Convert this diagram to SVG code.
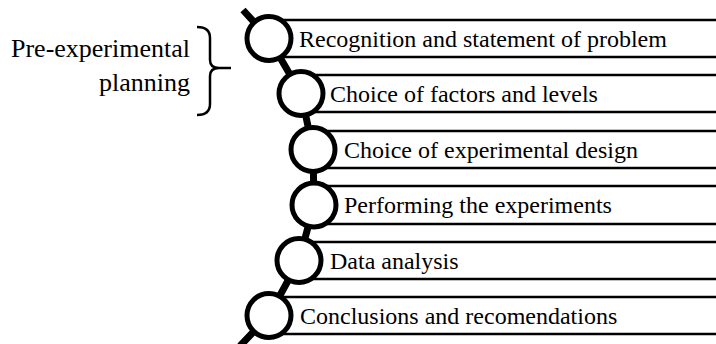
<svg xmlns="http://www.w3.org/2000/svg" width="716" height="344" viewBox="0 0 716 344">
<style>
.bar{fill:#fff;stroke:#000;stroke-width:2.5}
.node circle{fill:#fff;stroke:#000;stroke-width:5}
text{font-family:'Liberation Serif','Times New Roman','DejaVu Serif',serif;fill:#000}
.t{font-size:24px}
.lt{font-size:26px;text-anchor:end}
</style>
<rect width="716" height="344" fill="#fff"/>
<g id="label-pre">
<text class="lt" x="190" y="57" font-family="Liberation Serif, serif">Pre-experimental</text>
<text class="lt" x="190" y="91" font-family="Liberation Serif, serif">planning</text>
<path d="M197,27 Q210,27 210,38 L210,60 Q210,68 219,68 L231,68 M219,68 Q210,68 210,76 L210,104 Q210,115 197,115" fill="none" stroke="#000" stroke-width="2.5"/>
</g>
<g id="bars">
<rect class="bar" x="269" y="20" width="460" height="37"/>
<rect class="bar" x="301" y="75" width="430" height="37"/>
<rect class="bar" x="313" y="131" width="420" height="37"/>
<rect class="bar" x="314" y="186" width="420" height="38"/>
<rect class="bar" x="299" y="242" width="430" height="37"/>
<rect class="bar" x="269" y="297" width="460" height="37"/>
</g>
<g id="connectors">
<polyline points="243,10 269,38.5 301,93.5 313,149.5 314,205 299,260.5 269,315.5 240,346" fill="none" stroke="#000" stroke-width="7" stroke-linejoin="round"/>
</g>
<g id="n1" class="node"><circle cx="269" cy="38.5" r="22"/><text class="t" x="299" y="46.5">Recognition and statement of problem</text></g>
<g id="n2" class="node"><circle cx="301" cy="93.5" r="22"/><text class="t" x="330" y="101.5">Choice of factors and levels</text></g>
<g id="n3" class="node"><circle cx="313" cy="149.5" r="22"/><text class="t" x="344" y="157.5">Choice of experimental design</text></g>
<g id="n4" class="node"><circle cx="314" cy="205" r="22"/><text class="t" x="344" y="213">Performing the experiments</text></g>
<g id="n5" class="node"><circle cx="299" cy="260.5" r="22"/><text class="t" x="330" y="268.5">Data analysis</text></g>
<g id="n6" class="node"><circle cx="269" cy="315.5" r="22"/><text class="t" x="300" y="323.5">Conclusions and recomendations</text></g>
</svg>
